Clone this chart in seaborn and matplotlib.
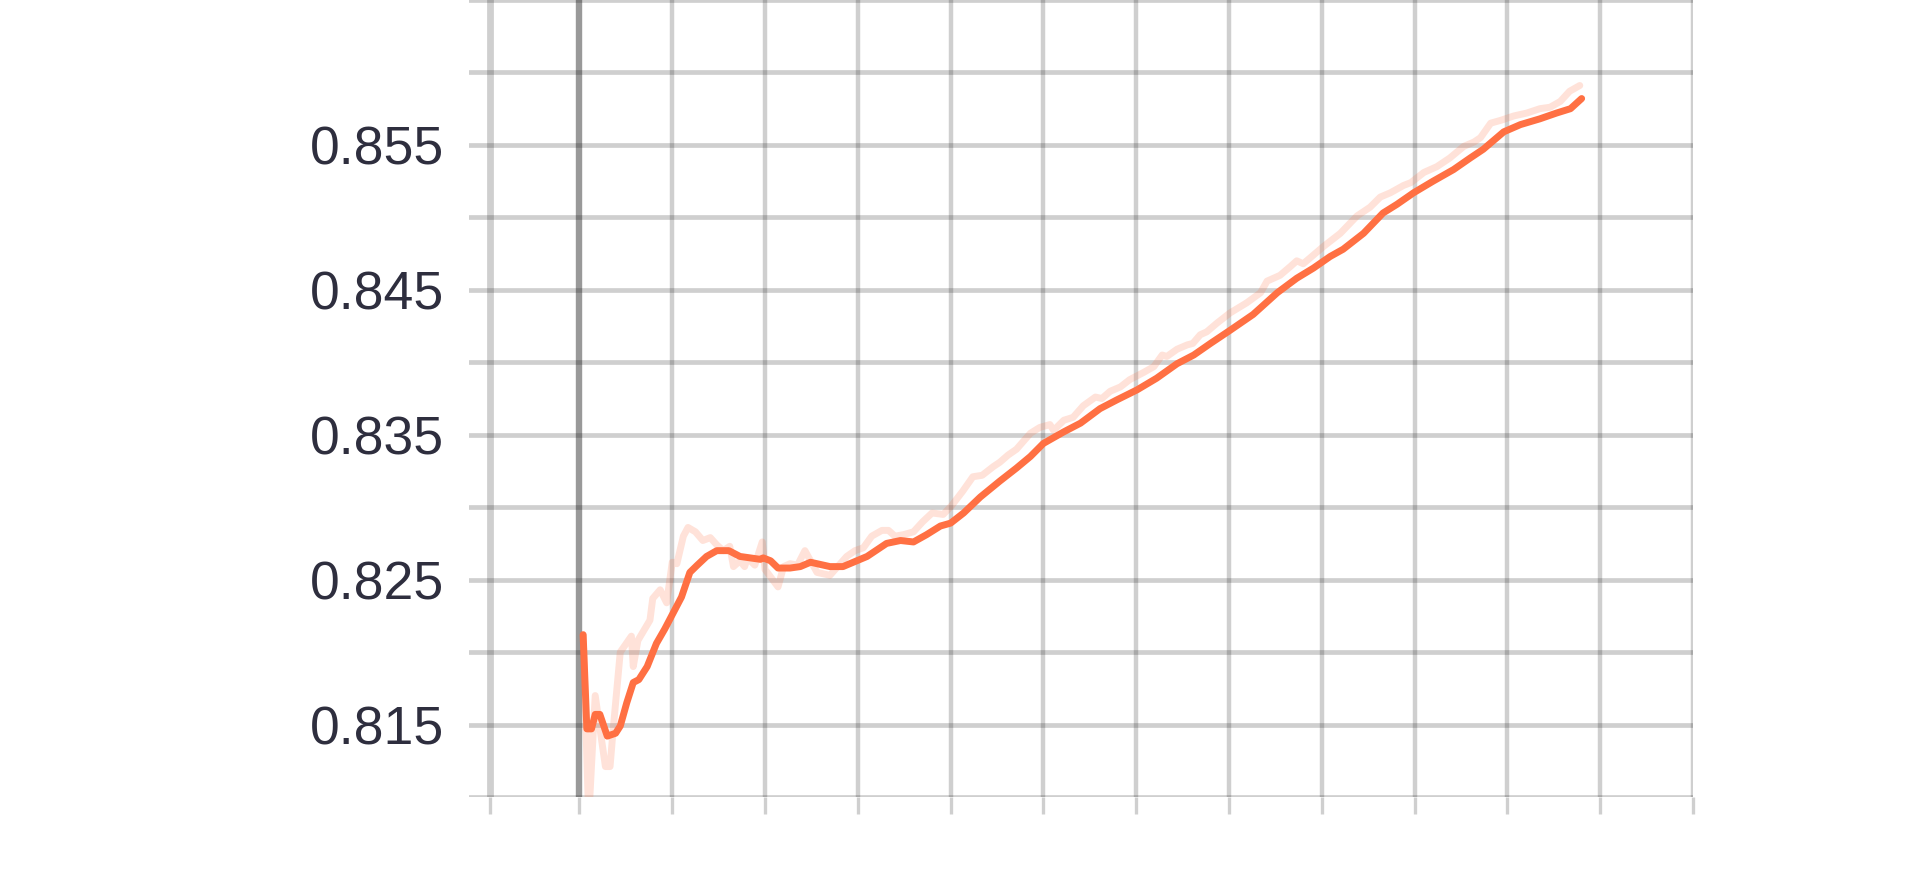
import matplotlib
matplotlib.use("Agg")
import matplotlib.pyplot as plt
import seaborn as sns
import pandas as pd

# smoothed curve (step, value)
smooth_steps = [0.04, 0.08, 0.13, 0.17, 0.22, 0.30, 0.39, 0.44, 0.51, 0.58, 0.64, 0.73,
                0.83, 0.92, 1.01, 1.10, 1.19, 1.27, 1.37, 1.48, 1.61, 1.73, 1.84, 1.95,
                1.98, 2.06, 2.14, 2.27, 2.38, 2.49, 2.70, 2.84, 3.10, 3.31, 3.46, 3.60,
                3.74, 3.89, 4.00, 4.14, 4.32, 4.53, 4.71, 4.86, 5.00, 5.22, 5.40, 5.61,
                5.79, 6.01, 6.22, 6.44, 6.62, 6.80, 7.01, 7.26, 7.52, 7.73, 7.91, 8.09,
                8.23, 8.45, 8.66, 8.81, 8.99, 9.20, 9.42, 9.60, 9.74, 9.96, 10.14, 10.35,
                10.53, 10.68, 10.80]
smooth_vals = [0.8212, 0.8147, 0.8147, 0.8157, 0.8157, 0.8142, 0.8144, 0.8149, 0.8165,
               0.8179, 0.8181, 0.8190, 0.8206, 0.8216, 0.8227, 0.8238, 0.8255, 0.8260,
               0.8266, 0.8270, 0.8270, 0.8266, 0.8265, 0.8264, 0.8265, 0.8263, 0.8258,
               0.8258, 0.8259, 0.8262, 0.8259, 0.8259, 0.8266, 0.8275, 0.8277, 0.8276,
               0.8281, 0.8287, 0.8289, 0.8296, 0.8307, 0.8318, 0.8327, 0.8335, 0.8344,
               0.8352, 0.8358, 0.8368, 0.8374, 0.8381, 0.8389, 0.8399, 0.8405, 0.8413,
               0.8422, 0.8433, 0.8448, 0.8458, 0.8465, 0.8473, 0.8478, 0.8489, 0.8503,
               0.8509, 0.8517, 0.8525, 0.8533, 0.8541, 0.8547, 0.8559, 0.8564, 0.8568,
               0.8572, 0.8575, 0.8582]

# raw curve (step, value)
raw_steps = [0.04, 0.10, 0.17, 0.28, 0.33, 0.36, 0.44, 0.56, 0.58, 0.63, 0.76, 0.79,
             0.87, 0.94, 1.00, 1.05, 1.12, 1.17, 1.25, 1.33, 1.41, 1.48, 1.55, 1.62,
             1.66, 1.73, 1.78, 1.81, 1.89, 1.97, 2.00, 2.14, 2.20, 2.27, 2.35, 2.43,
             2.56, 2.70, 2.88, 2.97, 3.06, 3.15, 3.26, 3.33, 3.40, 3.49, 3.60, 3.70,
             3.80, 3.92, 4.01, 4.13, 4.24, 4.34, 4.46, 4.53, 4.62, 4.71, 4.86, 4.96,
             5.07, 5.11, 5.22, 5.32, 5.43, 5.56, 5.63, 5.72, 5.83, 5.93, 6.08, 6.19,
             6.28, 6.33, 6.44, 6.55, 6.61, 6.69, 6.76, 6.87, 7.01, 7.19, 7.34, 7.41,
             7.55, 7.66, 7.73, 7.80, 7.91, 8.02, 8.20, 8.38, 8.52, 8.63, 8.74, 8.88,
             8.96, 9.10, 9.24, 9.38, 9.53, 9.64, 9.71, 9.82, 9.93, 10.07, 10.21, 10.35,
             10.46, 10.57, 10.67, 10.78]
raw_vals = [0.8212, 0.8085, 0.8170, 0.8121, 0.8121, 0.8144, 0.8200, 0.8211, 0.8190,
            0.8208, 0.8222, 0.8237, 0.8243, 0.8234, 0.8262, 0.8261, 0.8280, 0.8286,
            0.8283, 0.8277, 0.8279, 0.8274, 0.8270, 0.8273, 0.8259, 0.8263, 0.8259,
            0.8265, 0.8260, 0.8276, 0.8257, 0.8245, 0.8259, 0.8261, 0.8260, 0.8270,
            0.8255, 0.8253, 0.8266, 0.8270, 0.8272, 0.8280, 0.8284, 0.8284, 0.8280,
            0.8281, 0.8283, 0.8290, 0.8296, 0.8295, 0.8301, 0.8311, 0.8321, 0.8322,
            0.8328, 0.8331, 0.8336, 0.8340, 0.8351, 0.8355, 0.8357, 0.8353, 0.8360,
            0.8362, 0.8370, 0.8376, 0.8375, 0.8380, 0.8383, 0.8388, 0.8393, 0.8397,
            0.8405, 0.8404, 0.8409, 0.8412, 0.8413, 0.8419, 0.8421, 0.8427, 0.8434,
            0.8441, 0.8448, 0.8456, 0.8460, 0.8466, 0.8470, 0.8468, 0.8474, 0.8480,
            0.8489, 0.8501, 0.8507, 0.8514, 0.8517, 0.8522, 0.8524, 0.8531, 0.8535,
            0.8541, 0.8549, 0.8552, 0.8555, 0.8565, 0.8567, 0.8570, 0.8572, 0.8575,
            0.8576, 0.8580, 0.8587, 0.8591]

ytick_major = [0.815, 0.825, 0.835, 0.845, 0.855]
ytick_minor = [0.81, 0.82, 0.83, 0.84, 0.85, 0.86, 0.865]
xtick_pos = [-0.96, 0, 1, 2, 3, 4, 5, 6, 7, 8, 9, 10, 11, 12]

sns.set_style("white")
plt.rcParams['font.family'] = ['Liberation Sans', 'DejaVu Sans']

orange = "#ff7043"

raw_df = pd.DataFrame({"step": raw_steps, "value": raw_vals})
smooth_df = pd.DataFrame({"step": smooth_steps, "value": smooth_vals})

fig = plt.figure(figsize=(19.2, 8.93), dpi=100)
ax = fig.add_axes([469 / 1920, 96 / 893, 1224 / 1920, 797 / 893])

sns.lineplot(data=raw_df, x="step", y="value", ax=ax, color=orange,
             estimator=None, sort=False)
sns.lineplot(data=smooth_df, x="step", y="value", ax=ax, color=orange,
             estimator=None, sort=False)
raw_line, smooth_line = ax.lines[0], ax.lines[1]
raw_line.set_linewidth(5.0)
raw_line.set_alpha(0.2)
raw_line.set_zorder(2)
smooth_line.set_linewidth(5.0)
smooth_line.set_zorder(3)

ax.set_xlim(-1.19, 12.0)
ax.set_ylim(0.81, 0.865)
ax.set_xlabel("")
ax.set_ylabel("")

ax.set_yticks(ytick_major)
ax.set_yticklabels([f"{v:.3f}" for v in ytick_major])
ax.set_yticks(ytick_minor, minor=True)
ax.set_xticks(xtick_pos)
ax.set_xticklabels([])

for s in ax.spines.values():
    s.set_visible(False)

ax.set_axisbelow(True)
ax.grid(True, axis="y", which="both", color="#000000", alpha=0.19, linewidth=3.4)
ax.grid(True, axis="x", which="major", color="#000000", alpha=0.19, linewidth=3.2)

xgl = ax.get_xgridlines()
xgl[0].set_linewidth(4.9)
xgl[1].set_color("#999999")
xgl[1].set_alpha(1.0)
xgl[1].set_linewidth(4.6)

ax.tick_params(axis="y", which="both", left=False, length=0, pad=18,
               labelsize=38.5, labelcolor="#2e2e3e")
ax.tick_params(axis="x", which="major", bottom=True, length=12, width=2.4,
               color=(0, 0, 0, 0.19), direction="out")

fig.savefig("out.png", dpi=100)
